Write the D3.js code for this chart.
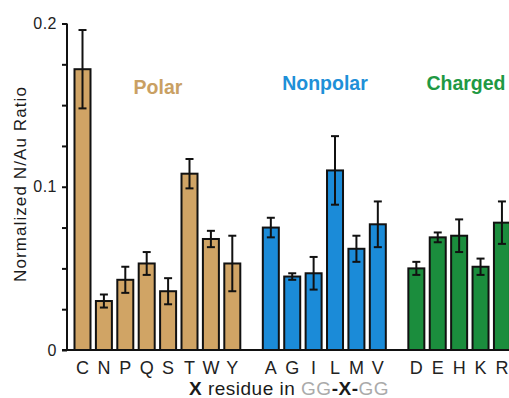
<!DOCTYPE html>
<html>
<head>
<meta charset="utf-8">
<script src="https://cdn.jsdelivr.net/npm/d3@7"></script>
<style>
  html, body { margin: 0; padding: 0; background: #fff; }
  svg { display: block; font-family: Arial, "Liberation Sans", sans-serif; }
</style>
</head>
<body>
<svg id="chart" width="509" height="398"></svg>
<script>
// ---- data ----
const groupNames = ["Polar", "Nonpolar", "Charged"];
const groupColors = ["#d0a465", "#1b8bd8", "#1b8d3d"];
const groupLabelColors = ["#c9a063", "#1e90d8", "#1f9944"];
const residues = ["C","N","P","Q","S","T","W","Y","A","G","I","L","M","V","D","E","H","K","R"];
const residueGroup = [0,0,0,0,0,0,0,0,1,1,1,1,1,1,2,2,2,2,2];
const ratios = [0.172,0.030,0.043,0.053,0.036,0.108,0.068,0.053,0.075,0.045,0.047,0.110,0.062,0.077,0.050,0.069,0.070,0.051,0.078];
const errors = [0.024,0.004,0.008,0.007,0.008,0.009,0.005,0.017,0.006,0.002,0.010,0.021,0.008,0.014,0.004,0.003,0.010,0.005,0.013];
const yTickLabels = [0, 0.1, 0.2];
const yMinorTicks = [0,0.025,0.05,0.075,0.1,0.125,0.15,0.175,0.2];

// ---- layout ----
const svg = d3.select("#chart");
const groupGap = 0.8;
const slot = residues.map((r, i) => i + residueGroup[i] * groupGap);
const x = d3.scaleLinear().domain([0, 1]).range([82.5, 82.5 + 21.4]);
const y = d3.scaleLinear().domain([0, 0.2]).range([350, 23.5]);
const barW = 16;
const x0 = 67;

// bars
svg.append("g").selectAll("rect").data(residues).join("rect")
  .attr("x", (d, i) => x(slot[i]) - barW / 2)
  .attr("y", (d, i) => y(ratios[i]))
  .attr("width", barW)
  .attr("height", (d, i) => y(0) - y(ratios[i]))
  .attr("fill", (d, i) => groupColors[residueGroup[i]])
  .attr("stroke", "#111")
  .attr("stroke-width", 2);

// error bars
const eg = svg.append("g").attr("stroke", "#111").attr("stroke-width", 2);
residues.forEach((r, i) => {
  const cx = x(slot[i]);
  const top = y(ratios[i] + errors[i]), bot = y(ratios[i] - errors[i]);
  eg.append("line").attr("x1", cx).attr("x2", cx).attr("y1", top).attr("y2", bot);
  eg.append("line").attr("x1", cx - 4).attr("x2", cx + 4).attr("y1", top).attr("y2", top);
  eg.append("line").attr("x1", cx - 4).attr("x2", cx + 4).attr("y1", bot).attr("y2", bot);
});

// y axis
const yAxis = d3.axisLeft(y).tickValues(yMinorTicks).tickSize(5)
  .tickFormat(d => yTickLabels.includes(d) ? (d === 0 ? "0" : String(d)) : "");
const ya = svg.append("g").attr("transform", `translate(${x0},0)`).call(yAxis);
ya.select(".domain").attr("stroke", "#111").attr("stroke-width", 2).attr("d", `M0,${y(0.2)}V${y(0)}`);
ya.selectAll(".tick line").attr("stroke", "#111").attr("stroke-width", 2);
ya.selectAll(".tick text").attr("font-size", 16).attr("fill", "#222").attr("x", -10)
  .attr("letter-spacing", 0.5)
  .attr("font-family", "Arial, 'Liberation Sans', sans-serif");

// x axis line
svg.append("line").attr("x1", x0 - 5).attr("x2", 509).attr("y1", y(0)).attr("y2", y(0))
  .attr("stroke", "#111").attr("stroke-width", 2);

// category labels
svg.append("g").selectAll("text").data(residues).join("text")
  .attr("x", (d, i) => x(slot[i]))
  .attr("y", 374)
  .attr("text-anchor", "middle")
  .attr("font-size", 18)
  .attr("fill", "#222")
  .text(d => d);

// group labels
const groupCenters = [158, 325, 466];
const groupY = [94, 90, 90];
svg.append("g").selectAll("text").data(groupNames).join("text")
  .attr("x", (d, i) => groupCenters[i])
  .attr("y", (d, i) => groupY[i])
  .attr("text-anchor", "middle")
  .attr("font-size", 19.5)
  .attr("font-weight", "bold")
  .attr("fill", (d, i) => groupLabelColors[i])
  .text(d => d);

// y title
svg.append("text")
  .attr("transform", "translate(26,184) rotate(-90)")
  .attr("text-anchor", "middle")
  .attr("font-size", 17)
  .attr("letter-spacing", 1.1)
  .attr("fill", "#1a1a1a")
  .text("Normalized N/Au Ratio");

// x title
const xt = svg.append("text")
  .attr("x", 289).attr("y", 395)
  .attr("text-anchor", "middle")
  .attr("font-size", 19)
  .attr("letter-spacing", 0.5)
  .attr("fill", "#1a1a1a");
xt.append("tspan").attr("font-weight", "bold").text("X");
xt.append("tspan").text(" residue in ");
xt.append("tspan").attr("fill", "#aaa").text("GG");
xt.append("tspan").attr("font-weight", "bold").text("-X-");
xt.append("tspan").attr("fill", "#aaa").text("GG");
</script>
</body>
</html>
